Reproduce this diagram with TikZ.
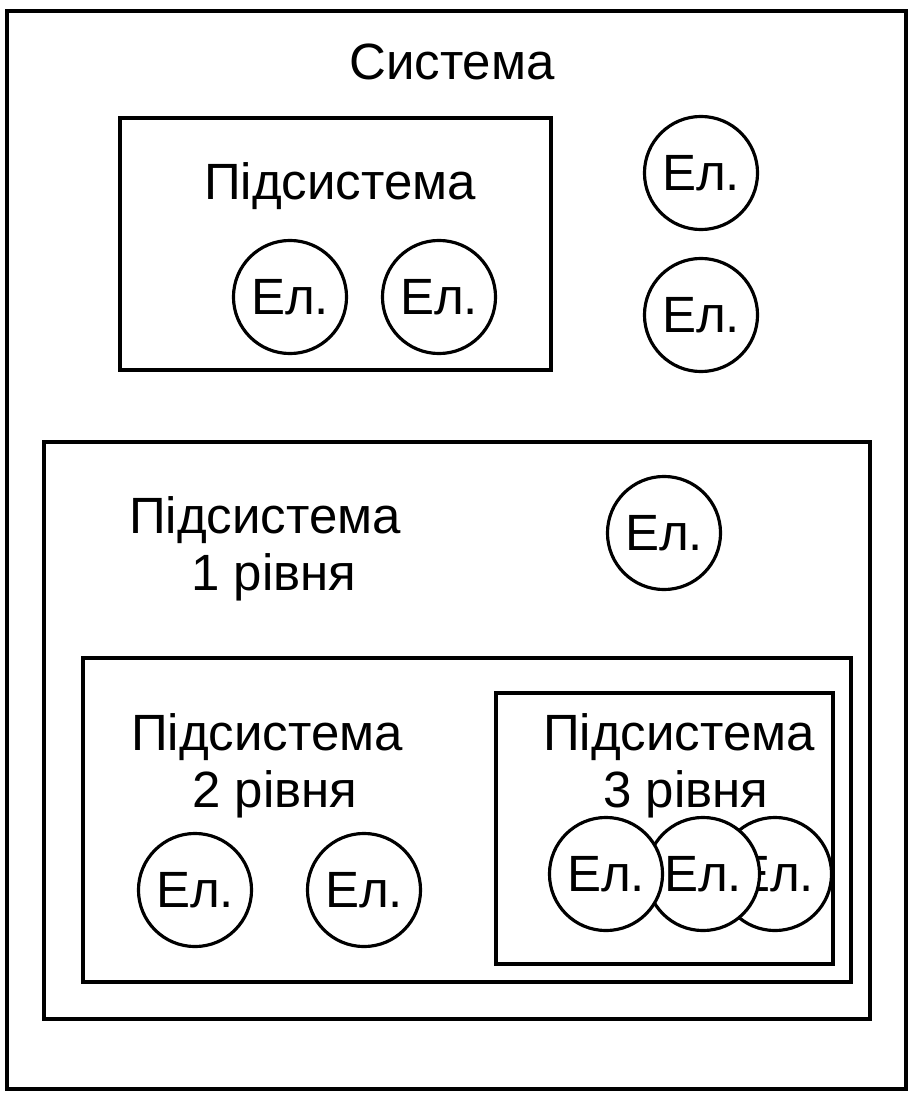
\documentclass[tikz,border=0pt]{standalone}
\usepackage{fontspec}
\setmainfont{Liberation Sans}
\usepackage{tikz}

\tikzset{
  box/.style={draw, line width=0.9pt},
  el/.style={circle, draw, line width=0.9pt, fill=white, minimum size=1.13cm, inner sep=0pt},
  lbl/.style={align=center, inner sep=0pt}
}

\begin{document}
\begin{tikzpicture}[x=0.01cm, y=-0.01cm, font=\fontsize{14.5}{16.2}\selectfont]
    \useasboundingbox (0,0) rectangle (915,1097);
    % outer system
    \draw[box] (7,11) rectangle (906,1089);
    \node[lbl] (sys) at (452,62) {Система};
    % plain subsystem
    \draw[box] (120,118) rectangle (551,370);
    \node[lbl] (sub) at (340,186) {Підсистема};
    \node[el] (s1) at (290,297) {Ел.};
    \node[el] (s2) at (439,297) {Ел.};
    \node[el] (e1) at (701,173) {Ел.};
    \node[el] (e2) at (701,315) {Ел.};
    % level 1
    \draw[box] (44,442) rectangle (870,1019);
    \node[lbl] (lv1) at (265,549) {Підсистема\\\hspace*{0.18cm}1 рівня};
    \node[el] (a1) at (664,533) {Ел.};
    % level 2
    \draw[box] (83,658) rectangle (851,982);
    \node[lbl] (lv2) at (267,766) {Підсистема\\\hspace*{0.16cm}2 рівня};
    \node[el] (b1) at (195,890) {Ел.};
    \node[el] (b2) at (364,890) {Ел.};
    % level 3
    \draw[box] (496,693) rectangle (833,964);
    \node[lbl] (lv3) at (679,766) {Підсистема\\\hspace*{0.14cm}3 рівня};
    \node[el] (c3) at (775,874) {Ел.};
    \node[el] (c2) at (703,874) {Ел.};
    \node[el] (c1) at (606,874) {Ел.};
\end{tikzpicture}
\end{document}
